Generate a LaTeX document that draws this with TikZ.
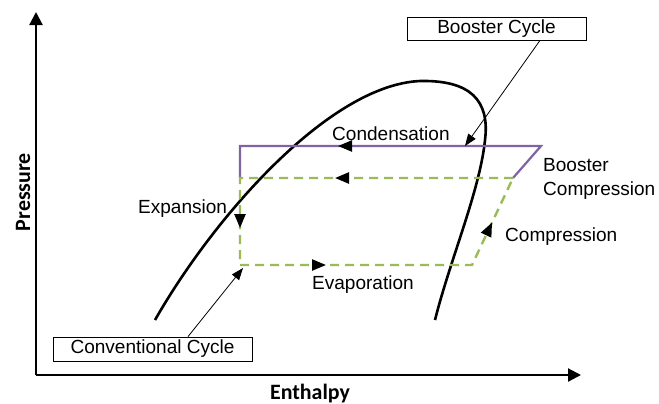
\documentclass[tikz,border=0pt]{standalone}
\usepackage{fontspec}
\setmainfont{Liberation Sans}
\newfontfamily\axisfont{Carlito}
\usetikzlibrary{arrows.meta}
\usetikzlibrary{decorations.markings}
\definecolor{boostviolet}{HTML}{8064A2}
\definecolor{convgreen}{HTML}{9BBB59}
\tikzset{%
 >={Triangle[length=14bp,width=11bp]}
}

\begin{document}
\begin{tikzpicture}[x=1bp, y=-1bp,
  every node/.style={font=\fontsize{19.1}{24}\selectfont, inner sep=0pt},
  axis/.style={line width=2.2bp, -{Triangle[length=13bp,width=13bp]}},
  axislabel/.style={font=\axisfont\bfseries\fontsize{22}{26}\selectfont},
  dome/.style={line width=2.6bp},
  booster/.style={draw=boostviolet, line width=2.2bp},
  conventional/.style={draw=convgreen, line width=2.4bp, dash pattern=on 9bp off 6bp},
  flow/.style={postaction={decorate, decoration={markings,
    mark=at position #1 with {\arrow[black, solid]{>}}}}},
  callout/.style={line width=.8bp, -{Triangle[length=12bp,width=9bp]}},
  cyclebox/.style={draw, line width=.8bp, fill=white}]
 \useasboundingbox (0,0) rectangle (659,403);

 % axes
 \coordinate (o) at (36,375);
 \draw [axis] (o) -- (36,12);
 \draw [axis] (o) -- (581,375);
 \node [axislabel, rotate=90, anchor=base] (p) at (30,192) {Pressure};
 \node [axislabel, anchor=base] (h) at (310,399) {Enthalpy};

 % saturation dome
 \draw [dome] (155,320) .. controls (215,215) and (330,85) .. (420,81)
   .. controls (470,80) and (490,100) .. (485,140)
   .. controls (480,190) and (450,260) .. (435,320);

 % cycle corners
 \coordinate (b1) at (240,146);
 \coordinate (b2) at (541,146);
 \coordinate (c1) at (240,178);
 \coordinate (c2) at (513,178);
 \coordinate (c3) at (472,265);
 \coordinate (c4) at (240,265);

 \draw [booster, flow=245.5bp] (c2) -- (b2) -- (b1) -- (c1);
 \draw [conventional, flow=178bp, flow=323bp, flow=446bp, flow=639bp]
   (c2) -- (c1) -- (c4) -- (c3) -- cycle;

 % labels
 \node [anchor=base west] (cond) at (332,140) {Condensation};
 \node [anchor=west, align=left] (bcomp) at (543,179) {Booster\\Compression};
 \node [anchor=base west] (exp) at (138,213) {Expansion};
 \node [anchor=base west] (evap) at (312,289) {Evaporation};
 \node [anchor=base west] (comp) at (505,241) {Compression};

 \node [cyclebox, minimum width=179bp, minimum height=23bp] (bcycle) at (496.5,28.5) {Booster Cycle};
 \node [cyclebox, minimum width=199bp, minimum height=24bp] (ccycle) at (152.5,349) {Conventional Cycle};
 \coordinate (bc tip) at (465,146);
 \coordinate (cc tip) at (243,268);
 \draw [callout] ([xshift=43.5bp]bcycle.south) -- (bc tip);
 \draw [callout] ([xshift=35.5bp]ccycle.north) -- (cc tip);
\end{tikzpicture}
\end{document}
